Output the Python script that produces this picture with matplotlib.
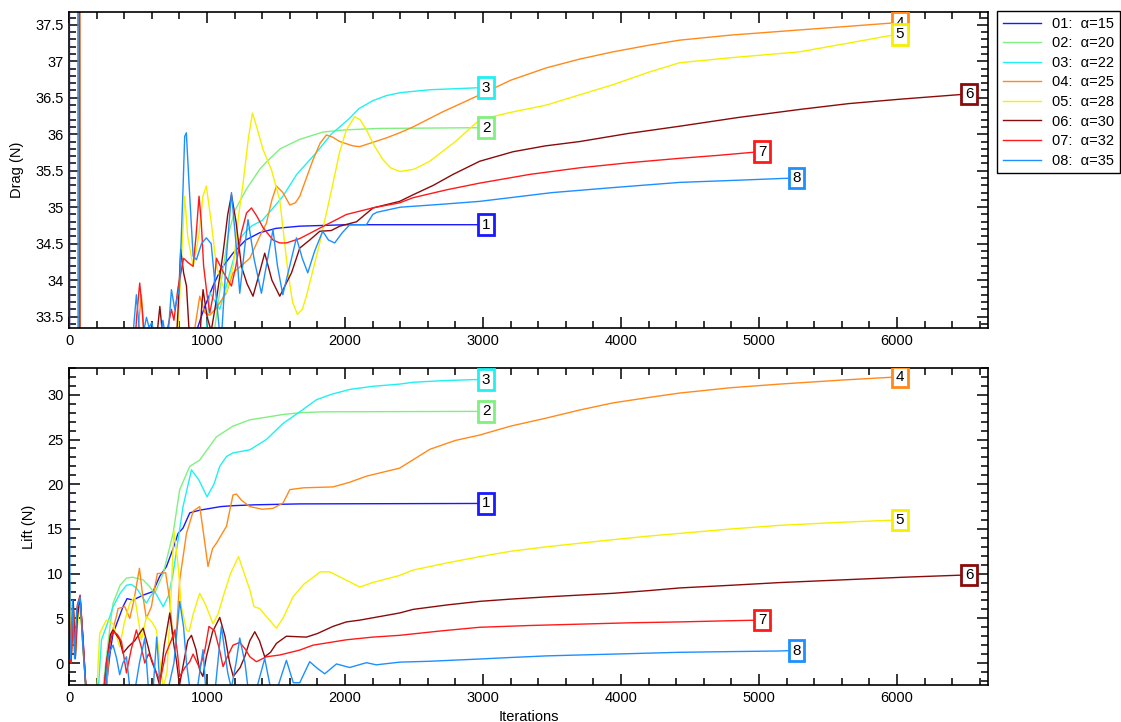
import matplotlib
matplotlib.use("Agg")
import matplotlib.pyplot as plt
from matplotlib.lines import Line2D
from matplotlib.ticker import MultipleLocator, FormatStrFormatter

plt.rcParams['font.family'] = ['Liberation Sans', 'DejaVu Sans']

# run names and colours
names = ['01:  α=15', '02:  α=20', '03:  α=22', '04:  α=25',
         '05:  α=28', '06:  α=30', '07:  α=32', '08:  α=35']
colors = ['#1a1aff', '#80f080', '#20f0f0', '#ff8a1a',
          '#f5f000', '#8b0a0a', '#ff1a1a', '#1e8fff']

# drag history (iteration, N)
drag_01 = [(0, 45), (5, 31), (100, 31), (900, 32.9), (923, 33.3), (980, 33.62), (1043, 33.92),
           (1100, 34.15), (1188, 34.37), (1280, 34.55), (1382, 34.65), (1500, 34.71),
           (1672, 34.74), (2010, 34.76), (2400, 34.76), (3000, 34.76)]
drag_02 = [(0, 45), (70, 45), (74, 31), (300, 31), (1030, 32.9), (1060, 33.4), (1100, 33.95),
           (1151, 34.6), (1200, 34.95), (1286, 35.25), (1382, 35.52), (1430, 35.62),
           (1530, 35.8), (1672, 35.93), (1840, 36.03), (2000, 36.06), (2250, 36.08), (3000, 36.09)]
drag_03 = [(0, 45), (2, 31), (300, 31), (970, 32.9), (995, 33.3), (1020, 33.83), (1060, 33.7),
           (1092, 33.6), (1130, 33.85), (1165, 34.1), (1230, 34.55), (1286, 34.68), (1330, 34.75),
           (1400, 34.82), (1470, 34.97), (1550, 35.15), (1650, 35.45), (1793, 35.75), (1900, 36.0),
           (2034, 36.22), (2100, 36.35), (2201, 36.46), (2300, 36.53), (2400, 36.57),
           (2614, 36.61), (3000, 36.64)]
drag_04 = [(0, 45), (76, 45), (80, 31), (300, 31), (480, 32.9), (500, 33.3), (524, 33.8),
           (545, 33.2), (560, 32.9), (880, 32.9), (900, 33.2), (947, 33.78), (985, 33.55),
           (1020, 33.52), (1068, 33.62), (1141, 33.83), (1188, 34.1), (1250, 34.2), (1310, 34.3),
           (1382, 34.6), (1430, 34.78), (1470, 35.1), (1503, 35.29), (1550, 35.2), (1600, 35.03),
           (1640, 35.06), (1672, 35.15), (1720, 35.4), (1768, 35.65), (1820, 35.88), (1865, 35.99),
           (1910, 35.96), (1962, 35.9), (2058, 35.84), (2107, 35.83), (2203, 35.89), (2300, 35.95),
           (2396, 36.02), (2493, 36.1), (2700, 36.3), (2976, 36.54), (3200, 36.74), (3459, 36.91),
           (3700, 37.03), (3943, 37.13), (4200, 37.22), (4425, 37.29), (4800, 37.36),
           (5295, 37.43), (5650, 37.48), (6000, 37.53)]
drag_05 = [(0, 45), (3, 31), (300, 31), (770, 32.9), (790, 33.3), (815, 34.3), (838, 35.15),
           (860, 34.6), (899, 34.19), (940, 34.6), (970, 35.15), (995, 35.29), (1030, 34.8),
           (1068, 34.19), (1116, 33.92), (1141, 33.83), (1190, 34.2), (1230, 34.9), (1261, 35.33),
           (1300, 35.95), (1329, 36.29), (1360, 36.1), (1406, 35.79), (1467, 35.51), (1527, 35.1),
           (1587, 34.1), (1620, 33.7), (1655, 33.53), (1690, 33.6), (1720, 33.78), (1817, 34.51),
           (1913, 35.33), (1960, 35.75), (2010, 36.06), (2070, 36.24), (2110, 36.2), (2155, 36.06),
           (2210, 35.85), (2275, 35.65), (2330, 35.54), (2396, 35.49), (2500, 35.52),
           (2614, 35.63), (2800, 35.9), (2976, 36.2), (3200, 36.3), (3459, 36.4), (3700, 36.54),
           (3943, 36.68), (4200, 36.85), (4425, 36.98), (4800, 37.05), (5295, 37.13),
           (5650, 37.25), (6000, 37.37)]
drag_06 = [(0, 45), (74, 45), (78, 31), (300, 31), (620, 32.9), (640, 33.3), (658, 33.64),
           (680, 33.2), (700, 32.9), (770, 32.9), (790, 33.6), (809, 34.42), (830, 34.1),
           (851, 33.92), (870, 33.3), (890, 32.9), (940, 32.9), (960, 33.6), (971, 33.87),
           (1000, 33.5), (1030, 33.3), (1068, 33.73), (1116, 34.37), (1150, 34.9), (1177, 35.17),
           (1210, 34.8), (1249, 34.19), (1290, 33.95), (1333, 33.78), (1380, 34.1), (1418, 34.37),
           (1470, 34.0), (1527, 33.78), (1612, 34.1), (1672, 34.44), (1744, 34.55), (1817, 34.67),
           (1900, 34.68), (1962, 34.74), (2083, 34.8), (2203, 34.99), (2396, 35.08), (2493, 35.17),
           (2640, 35.3), (2783, 35.45), (2976, 35.63), (3217, 35.76), (3450, 35.84), (3701, 35.9),
           (4050, 36.01), (4425, 36.11), (4850, 36.23), (5295, 36.34), (5650, 36.42),
           (6019, 36.48), (6500, 36.55)]
drag_07 = [(0, 45), (72, 45), (76, 31), (300, 31), (470, 32.9), (490, 33.5), (512, 33.96),
           (530, 33.6), (545, 33.2), (560, 32.9), (690, 32.9), (710, 33.3), (742, 33.6),
           (760, 33.45), (790, 33.9), (830, 34.3), (863, 34.24), (899, 34.19), (920, 34.6),
           (942, 35.15), (958, 34.8), (975, 34.2), (1000, 33.8), (1020, 33.55), (1045, 33.8),
           (1068, 34.3), (1120, 34.1), (1177, 33.92), (1210, 34.2), (1249, 34.65), (1286, 34.92),
           (1322, 34.99), (1360, 34.88), (1406, 34.72), (1478, 34.55), (1527, 34.51), (1575, 34.51),
           (1672, 34.57), (1865, 34.76), (2010, 34.9), (2200, 34.99), (2396, 35.06), (2493, 35.13),
           (2740, 35.24), (2976, 35.33), (3340, 35.45), (3701, 35.54), (4060, 35.61),
           (4425, 35.67), (4700, 35.71), (5000, 35.76)]
drag_08 = [(0, 45), (62, 45), (66, 31), (300, 31), (455, 32.9), (470, 33.4), (488, 33.8),
           (510, 33.3), (530, 33.2), (561, 33.49), (580, 33.35), (600, 33.42), (620, 33.2),
           (660, 33.2), (680, 33.45), (700, 33.2), (720, 33.3), (742, 33.87), (766, 33.6),
           (800, 33.9), (825, 35.2), (838, 35.97), (850, 36.02), (870, 35.3), (899, 34.33),
           (923, 34.28), (960, 34.5), (995, 34.58), (1030, 34.5), (1060, 33.9), (1090, 33.3),
           (1104, 33.2), (1140, 34.3), (1177, 35.2), (1210, 34.5), (1237, 33.82), (1270, 34.4),
           (1297, 34.83), (1340, 34.3), (1394, 33.82), (1430, 34.2), (1478, 34.69), (1510, 34.2),
           (1549, 33.8), (1600, 34.2), (1648, 34.58), (1690, 34.3), (1730, 34.1), (1780, 34.4),
           (1838, 34.67), (1880, 34.55), (1925, 34.51), (1980, 34.65), (2034, 34.76), (2155, 34.76),
           (2201, 34.9), (2230, 34.93), (2400, 35.0), (2700, 35.04), (2976, 35.08), (3500, 35.2),
           (3950, 35.27), (4425, 35.34), (4850, 35.37), (5250, 35.4)]

# lift history (iteration, N)
lift_01 = [(0, 27), (5, 10), (15, 1), (30, 6.5), (45, 0.5), (60, 5), (80, 7.2), (100, 3),
           (125, -3.5), (250, -3.5), (271, -2.4), (300, 1.5), (319, 3.3), (391, 6.3), (420, 7.2),
           (464, 7.05), (537, 7.6), (609, 8.0), (657, 9.7), (706, 10.8), (754, 12.8), (790, 14.5),
           (826, 15.1), (875, 16.8), (947, 17.1), (1100, 17.5), (1188, 17.6), (1350, 17.7),
           (1672, 17.8), (3000, 17.85)]
lift_02 = [(0, 5), (10, 0.5), (25, 6.5), (45, 0.5), (60, 5), (80, 7), (100, 2), (125, -3.5),
           (240, -3.5), (271, 0.7), (300, 4.5), (319, 6.7), (370, 8.7), (416, 9.5), (460, 9.6),
           (537, 9.3), (580, 8.6), (621, 7.8), (682, 10.0), (754, 14.5), (802, 19.4), (875, 22.0),
           (947, 22.7), (1068, 25.3), (1188, 26.5), (1310, 27.2), (1430, 27.5), (1551, 27.8),
           (1672, 28.0), (1841, 28.1), (3000, 28.15)]
lift_03 = [(0, 22), (5, 8), (15, 0.5), (30, 6), (45, 0.5), (60, 4.5), (80, 7), (100, 2),
           (125, -3.5), (210, -3.5), (235, 2.6), (280, 4.5), (319, 6.3), (370, 7.8), (416, 8.7),
           (450, 8.8), (488, 8.4), (561, 6.7), (590, 7.5), (621, 8.0), (682, 6.3), (720, 7.5),
           (754, 10.0), (826, 17.5), (887, 21.6), (940, 20.5), (1000, 18.6), (1050, 20.0),
           (1092, 22.0), (1141, 23.1), (1188, 23.5), (1310, 23.85), (1430, 25.0), (1551, 26.8),
           (1672, 28.1), (1793, 29.45), (1900, 30.05), (2034, 30.6), (2200, 30.95),
           (2396, 31.2), (2493, 31.4), (2700, 31.58), (2926, 31.7), (3000, 31.7)]
lift_04 = [(0, 10.8), (8, 3), (15, 0.2), (30, 7), (45, 1), (60, 5.5), (80, 7.2), (100, 2),
           (125, -3.5), (270, -3.5), (295, 2.5), (343, 5.2), (355, 6.1), (404, 6.3), (440, 5.0),
           (470, 7), (510, 10.6), (530, 8), (560, 5.0), (597, 6.3), (615, 8), (640, 10.0),
           (700, 10.1), (730, 7), (754, 2.6), (780, 4), (802, 9.3), (851, 14.5), (900, 17),
           (947, 17.5), (970, 15), (1007, 10.8), (1040, 12.8), (1068, 13.4), (1141, 15.3),
           (1188, 18.8), (1213, 18.9), (1250, 18.2), (1310, 17.5), (1400, 17.2), (1478, 17.3),
           (1551, 17.9), (1600, 19.4), (1700, 19.6), (1913, 19.7), (2030, 20.2), (2155, 20.9),
           (2396, 21.8), (2614, 23.9), (2800, 24.9), (2976, 25.5), (3200, 26.5), (3459, 27.4),
           (3700, 28.3), (3943, 29.1), (4200, 29.7), (4425, 30.2), (4800, 30.8), (5150, 31.2),
           (5600, 31.65), (6000, 32.0)]
lift_05 = [(0, 7), (8, 2), (15, 0.3), (30, 6.5), (45, 1), (60, 4), (80, 7), (100, 2),
           (125, -3.5), (200, -3.5), (222, 3.3), (270, 4.8), (319, 4.4), (367, 1.8), (400, 4.5),
           (440, 6.7), (476, 7.4), (500, 5), (525, 2.6), (561, 5.2), (600, 4.6), (633, 3.7),
           (660, 0), (682, -2.8), (710, -1), (740, 8), (760, 14.8), (790, 11), (814, 6.3),
           (851, 3.7), (870, 3.5), (900, 5.5), (947, 7.8), (990, 6.5), (1043, 4.4), (1080, 5.5),
           (1116, 7.4), (1170, 10), (1228, 11.9), (1270, 10), (1310, 8.2), (1340, 6.3),
           (1382, 6.1), (1430, 5.2), (1503, 3.9), (1550, 5.0), (1623, 7.4), (1700, 8.8),
           (1744, 9.3), (1820, 10.2), (1889, 10.2), (1980, 9.5), (2107, 8.5), (2200, 9.0),
           (2396, 9.8), (2493, 10.4), (2740, 11.2), (2976, 11.9), (3200, 12.5), (3459, 13.0),
           (3700, 13.4), (3943, 13.8), (4200, 14.2), (4425, 14.5), (4800, 15.0), (5150, 15.4),
           (5600, 15.75), (6000, 16.0)]
lift_06 = [(0, 7), (8, 1), (15, 0.2), (30, 7), (45, 1), (60, 5), (80, 7.5), (100, 2.5),
           (125, -3.5), (250, -3.5), (271, 0), (300, 3.2), (319, 3.7), (367, 2.6), (391, 1.1),
           (428, 1.8), (476, 2.5), (537, 3.9), (570, 2), (597, 0.3), (630, -1), (657, -2.5),
           (690, 2), (730, 5.6), (760, 2), (778, 0.3), (800, -2.5), (830, 0), (860, 2.5),
           (887, 3.1), (920, 1.5), (947, -0.8), (970, -1.5), (995, 0.7), (1040, 3.5), (1092, 5.1),
           (1130, 3), (1164, 0), (1190, -1.5), (1240, -0.5), (1273, 0.7), (1310, 2.5), (1346, 3.5),
           (1380, 2.5), (1418, 0.7), (1460, 1.2), (1503, 2.2), (1575, 3.0), (1720, 2.9),
           (1800, 3.3), (1913, 4.1), (2010, 4.6), (2107, 4.8), (2396, 5.6), (2493, 6.0),
           (2740, 6.5), (2976, 6.9), (3200, 7.15), (3459, 7.4), (3700, 7.6), (3943, 7.8),
           (4200, 8.1), (4425, 8.4), (4800, 8.7), (5150, 9.0), (5600, 9.3), (6050, 9.6),
           (6500, 9.85)]
lift_07 = [(0, 6), (8, 1), (15, 0), (30, 6), (45, 0.5), (60, 6.5), (80, 7.6), (100, 3),
           (125, -3.5), (250, -3.5), (271, 0), (300, 2.5), (319, 3.5), (350, 3.2), (380, 2.4),
           (416, -1.1), (450, 1.5), (488, 3.7), (520, 2), (549, 0), (575, 1), (597, 0.5),
           (630, -1), (660, -2), (700, 1), (740, 2.5), (766, 3.7), (790, 0.5), (802, -1.5),
           (840, -0.5), (875, 0.15), (899, 1.0), (947, -0.6), (985, 1.5), (1014, 4.1),
           (1055, 3.6), (1090, 1.5), (1116, -0.4), (1150, 0.8), (1188, 2.0), (1237, 2.3),
           (1280, 1.5), (1310, 0.7), (1358, 0.15), (1430, 0.7), (1527, 0.9), (1672, 1.45),
           (1768, 2.0), (2010, 2.6), (2200, 2.9), (2396, 3.1), (2700, 3.6), (2976, 4.0),
           (3340, 4.2), (3701, 4.35), (4060, 4.5), (4425, 4.6), (4700, 4.7), (5000, 4.8)]
lift_08 = [(0, 6), (8, 0.5), (15, 2), (25, 7), (40, 0.5), (55, 6), (80, 7.4), (100, 2),
           (125, -3.5), (260, -3.5), (285, 1), (319, 2.0), (345, 0.5), (367, -1.3), (390, 0),
           (416, 0.7), (440, -2.8), (480, -2.8), (510, 0), (549, 2.8), (575, -2.8), (610, -2.8),
           (635, 2.9), (660, -2.8), (720, -2.8), (760, 0), (802, 6.9), (830, 4), (851, 0),
           (875, -2.8), (930, -2.8), (971, 1.5), (990, -2.8), (1060, -2.8), (1104, 4.1),
           (1150, -1.1), (1176, -2.8), (1210, 0), (1237, 2.8), (1275, 0), (1297, -2.8),
           (1360, -2.8), (1418, 0.5), (1460, -2.8), (1510, -2.8), (1575, 0.3), (1625, -2.2),
           (1672, -2.2), (1744, 0.15), (1800, -0.6), (1853, -1.2), (1938, -0.1), (2034, -0.5),
           (2155, 0.04), (2227, -0.2), (2396, 0.1), (2614, 0.2), (2976, 0.45), (3200, 0.62),
           (3459, 0.8), (3700, 0.9), (3943, 1.0), (4425, 1.2), (4800, 1.28), (5150, 1.35),
           (5250, 1.4)]

drag_runs = [drag_01, drag_02, drag_03, drag_04, drag_05, drag_06, drag_07, drag_08]
lift_runs = [lift_01, lift_02, lift_03, lift_04, lift_05, lift_06, lift_07, lift_08]


def draw_panel(ax, runs, ylim, ymajor, yminor):
    for k, (run, c) in enumerate(zip(runs, colors)):
        it = [p[0] for p in run]
        val = [p[1] for p in run]
        ax.plot(it, val, color=c, lw=1.0)
        # run number boxed at the last iteration
        ax.text(it[-1] + 22, val[-1], str(k + 1), ha='center', va='center',
                fontsize=11, clip_on=True,
                bbox=dict(boxstyle='square,pad=0.22', fc='white', ec=c, lw=2))
    ax.set_xlim(0, 6660)
    ax.set_ylim(*ylim)
    ax.xaxis.set_major_locator(MultipleLocator(1000))
    ax.xaxis.set_minor_locator(MultipleLocator(200))
    ax.yaxis.set_major_locator(MultipleLocator(ymajor))
    ax.yaxis.set_minor_locator(MultipleLocator(yminor))
    ax.yaxis.set_major_formatter(FormatStrFormatter('%g'))
    ax.tick_params(which='both', direction='in', top=True, right=True,
                   labelsize=10.5, width=1.1)
    ax.tick_params(which='major', length=8, pad=4)
    ax.tick_params(which='minor', length=5)
    for s in ax.spines.values():
        s.set_linewidth(1.2)


fig = plt.figure(figsize=(11.21, 7.22), dpi=100)
ax1 = fig.add_axes([0.0616, 0.5453, 0.8198, 0.4385])
ax2 = fig.add_axes([0.0616, 0.0512, 0.8198, 0.4391])

draw_panel(ax1, drag_runs, (33.34, 37.68), 0.5, 0.1)
draw_panel(ax2, lift_runs, (-2.46, 33.0), 5, 1)

ax1.set_ylabel('Drag (N)', fontsize=10.5, labelpad=8)
ax2.set_ylabel('Lift (N)', fontsize=10.5, labelpad=8)
ax2.set_xlabel('Iterations', fontsize=10.5, labelpad=4)

handles = [Line2D([], [], color=c, lw=1.0) for c in colors]
leg = fig.legend(handles, names, loc='upper left',
                 bbox_to_anchor=(997 / 1121, 1 - 11 / 722), borderaxespad=0,
                 fontsize=10.5, handlelength=2.6, labelspacing=0.38,
                 fancybox=False, edgecolor='black', framealpha=1)
leg.get_frame().set_linewidth(1.0)

fig.savefig('out.png', dpi=100)
